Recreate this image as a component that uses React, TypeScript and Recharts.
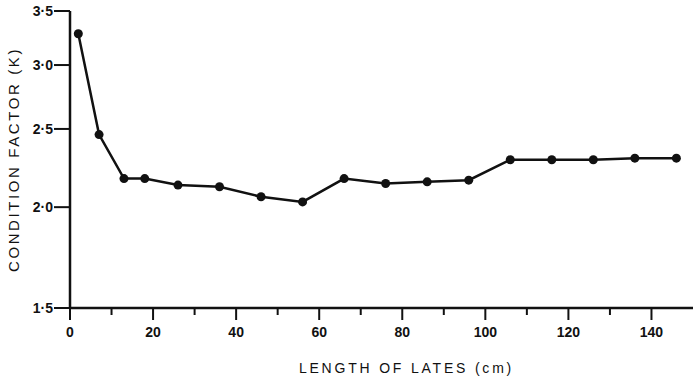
import React from 'react';
import { LineChart, Line, XAxis, YAxis, Label } from 'recharts';

const lengths = [2, 7, 13, 18, 26, 36, 46, 56, 66, 76, 86, 96, 106, 116, 126, 136, 146];
const conditionK = [3.28, 2.46, 2.17, 2.17, 2.13, 2.12, 2.06, 2.03, 2.17, 2.14, 2.15, 2.16, 2.29, 2.29, 2.29, 2.3, 2.3];
const xTicks = [0, 10, 20, 30, 40, 50, 60, 70, 80, 90, 100, 110, 120, 130, 140, 150];
const yTicks = [1.5, 2, 2.5, 3, 3.5];

const data = lengths.map((len, i) => ({ len, k: conditionK[i] }));

const FONT = '"Liberation Sans", Arial, sans-serif';
const INK = '#111';

const XTick = (props: any) => {
  const { x, y, payload } = props;
  const v = payload.value;
  const major = v % 20 === 0;
  if (v === 150) return null;
  return (
    <g>
      <line x1={x} y1={y} x2={x} y2={y + (major ? 12 : 7)} stroke={INK} strokeWidth={2} />
      {major && (
        <text x={x} y={y + 29} textAnchor="middle" fontSize={14} fontFamily={FONT} fill={INK} fontWeight={600}>
          {v}
        </text>
      )}
    </g>
  );
};

const YTick = (props: any) => {
  const { x, y, payload } = props;
  return (
    <text x={x} y={y + 5} textAnchor="end" fontSize={14} fontFamily={FONT} fill={INK} fontWeight={600}>
      {payload.value.toFixed(1).replace('.', '·')}
    </text>
  );
};

export default function App() {
  return (
    <div style={{ position: 'absolute', left: 0, top: 0, width: 700, height: 382, background: '#fff' }}>
      <LineChart width={700} height={382} data={data} margin={{ top: 11, right: 7, left: 0, bottom: 0 }}>
        <XAxis
          dataKey="len"
          type="number"
          domain={[0, 150]}
          ticks={xTicks}
          interval={0}
          height={74}
          tickSize={0}
          tickMargin={0}
          tickLine={false}
          axisLine={{ stroke: INK, strokeWidth: 2.5 }}
          tick={<XTick />}
        >
          <Label
            value="LENGTH OF LATES (cm)"
            position="insideBottom"
            offset={9}
            dx={25}
            style={{ fontFamily: FONT, fontSize: 14, letterSpacing: 2.8, fill: INK }}
          />
        </XAxis>
        <YAxis
          type="number"
          scale="log"
          domain={[1.5, 3.5]}
          ticks={yTicks}
          allowDataOverflow
          width={70}
          tickSize={16}
          tickMargin={1}
          tickLine={{ stroke: INK, strokeWidth: 2 }}
          axisLine={{ stroke: INK, strokeWidth: 2.5 }}
          tick={<YTick />}
        >
          <Label
            value="CONDITION FACTOR (K)"
            angle={-90}
            position="insideLeft"
            offset={14}
            style={{ fontFamily: FONT, fontSize: 15, letterSpacing: 2.6, fill: INK, textAnchor: 'middle' }}
          />
        </YAxis>
        <Line
          dataKey="k"
          stroke={INK}
          strokeWidth={2.5}
          dot={{ r: 4.5, fill: INK, stroke: INK, strokeWidth: 0 }}
          isAnimationActive={false}
        />
      </LineChart>
    </div>
  );
}
